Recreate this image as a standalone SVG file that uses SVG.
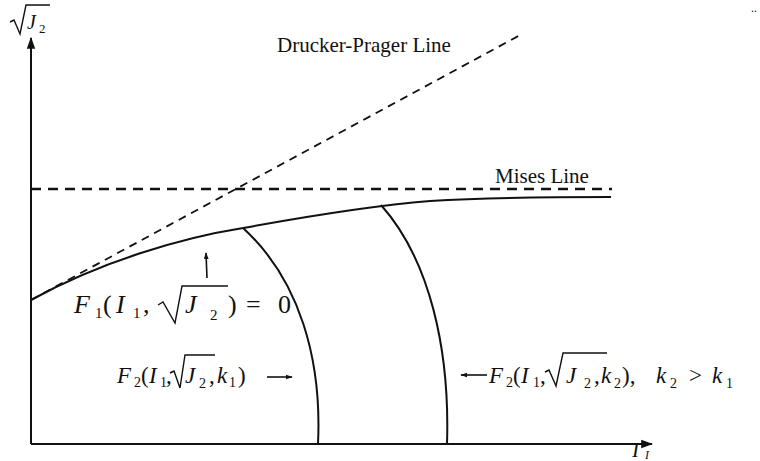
<svg xmlns="http://www.w3.org/2000/svg" width="760" height="461" viewBox="0 0 760 461">
<style>
.t{font-family:"Liberation Serif","Times New Roman",serif;fill:#111}
.m{font-family:"Liberation Serif","Times New Roman",serif;font-style:italic;fill:#111}
.ln{stroke:#111;fill:none}
.rad{stroke:#111;fill:none;stroke-width:1.4;stroke-linejoin:miter}
</style>
<defs>
<marker id="ah" viewBox="0 0 10 10" refX="9" refY="5" markerWidth="7" markerHeight="7" orient="auto" markerUnits="userSpaceOnUse">
<path d="M0,1.5 L10,5 L0,8.5 z" fill="#111"/>
</marker>
<marker id="ahb" viewBox="0 0 10 10" refX="9" refY="5" markerWidth="12" markerHeight="12" orient="auto" markerUnits="userSpaceOnUse">
<path d="M0,1.5 L10,5 L0,8.5 z" fill="#111"/>
</marker>
</defs>
<rect width="760" height="461" fill="#fff"/>
<g id="connectors">
<line id="y-axis" class="ln" x1="31" y1="444" x2="31" y2="38" stroke-width="2" marker-end="url(#ahb)"/>
<line id="x-axis" class="ln" x1="31" y1="444" x2="652" y2="444" stroke-width="2" marker-end="url(#ahb)"/>
<line id="dp-line" class="ln" x1="31" y1="300" x2="522" y2="34" stroke-width="1.8" stroke-dasharray="8,6"/>
<line id="mises-line" class="ln" x1="31" y1="189" x2="612" y2="189" stroke-width="2.5" stroke-dasharray="10,7"/>
<path id="f1-curve" class="ln" stroke-width="2" d="M31,300 C100,262 180,238 243,228 C320,214 380,205 430,201 C500,197 560,197 611,197"/>
<path id="f2-k1" class="ln" stroke-width="2" d="M243,228 C300,280 322,360 318,444"/>
<path id="f2-k2" class="ln" stroke-width="2" d="M381,205 C430,260 450,350 447,444"/>
<line class="ln" x1="207" y1="278" x2="206" y2="253" stroke-width="1.6" marker-end="url(#ah)"/>
<line class="ln" x1="267" y1="377" x2="292" y2="377" stroke-width="1.6" marker-end="url(#ah)"/>
<line class="ln" x1="487" y1="375" x2="461" y2="375" stroke-width="1.6" marker-end="url(#ah)"/>
</g>
<g id="label-sqrtJ2">
<path class="rad" d="M10,22 L14,20 L20,34 L26,5 L50,5"/>
<text class="m" x="27" y="29" font-size="20">J</text>
<text class="t" x="39" y="33" font-size="13">2</text>
</g>
<g id="label-I1">
<text class="m" x="632" y="457" font-size="21">I</text>
<text class="m" x="645" y="459" font-size="12">I</text>
</g>
<text id="label-dp" class="t" x="277" y="52" font-size="21">Drucker-Prager Line</text>
<text id="label-mises" class="t" x="495" y="183" font-size="21">Mises Line</text>
<g id="label-F1">
<text class="m" x="74" y="313" font-size="26">F</text>
<text class="t" x="95" y="318" font-size="15">1</text>
<text class="t" x="103" y="313" font-size="26">(</text>
<text class="m" x="116" y="313" font-size="26">I</text>
<text class="t" x="133" y="318" font-size="15">1</text>
<text class="t" x="143" y="313" font-size="26">,</text>
<path class="rad" d="M158,305 L163,302 L175,323 L182,286 L228,286"/>
<text class="m" x="185" y="313" font-size="26">J</text>
<text class="t" x="210" y="320" font-size="15">2</text>
<text class="t" x="228" y="313" font-size="26">)</text>
<text class="t" x="246" y="313" font-size="26">=</text>
<text class="t" x="278" y="313" font-size="26">0</text>
</g>
<g id="label-F2k1">
<text class="m" x="117" y="383" font-size="23">F</text>
<text class="t" x="134" y="387" font-size="14">2</text>
<text class="t" x="141" y="383" font-size="23">(</text>
<text class="m" x="149" y="383" font-size="23">I</text>
<text class="t" x="160" y="387" font-size="14">1</text>
<text class="t" x="166" y="383" font-size="23">,</text>
<path class="rad" d="M170,373 L174,371 L180,388 L185,355 L215,355"/>
<text class="m" x="185" y="383" font-size="23">J</text>
<text class="t" x="199" y="388" font-size="14">2</text>
<text class="t" x="209" y="383" font-size="23">,</text>
<text class="m" x="217" y="383" font-size="23">k</text>
<text class="t" x="229" y="387" font-size="14">1</text>
<text class="t" x="238" y="383" font-size="23">)</text>
</g>
<g id="label-F2k2">
<text class="m" x="489" y="383" font-size="23">F</text>
<text class="t" x="506" y="387" font-size="14">2</text>
<text class="t" x="513" y="383" font-size="23">(</text>
<text class="m" x="521" y="383" font-size="23">I</text>
<text class="t" x="533" y="387" font-size="14">1</text>
<text class="t" x="540" y="383" font-size="23">,</text>
<path class="rad" d="M545,372 L549,370 L556,386 L563,353 L607,353"/>
<text class="m" x="566" y="383" font-size="23">J</text>
<text class="t" x="584" y="388" font-size="14">2</text>
<text class="t" x="594" y="383" font-size="23">,</text>
<text class="m" x="601" y="383" font-size="23">k</text>
<text class="t" x="614" y="388" font-size="14">2</text>
<text class="t" x="622" y="383" font-size="23">),</text>
<text class="m" x="656" y="383" font-size="23">k</text>
<text class="t" x="670" y="388" font-size="14">2</text>
<text class="t" x="689" y="383" font-size="23">&gt;</text>
<text class="m" x="712" y="383" font-size="23">k</text>
<text class="t" x="726" y="388" font-size="14">1</text>
</g>
<text id="dots" class="t" x="751" y="12" font-size="12">..</text>
</svg>
